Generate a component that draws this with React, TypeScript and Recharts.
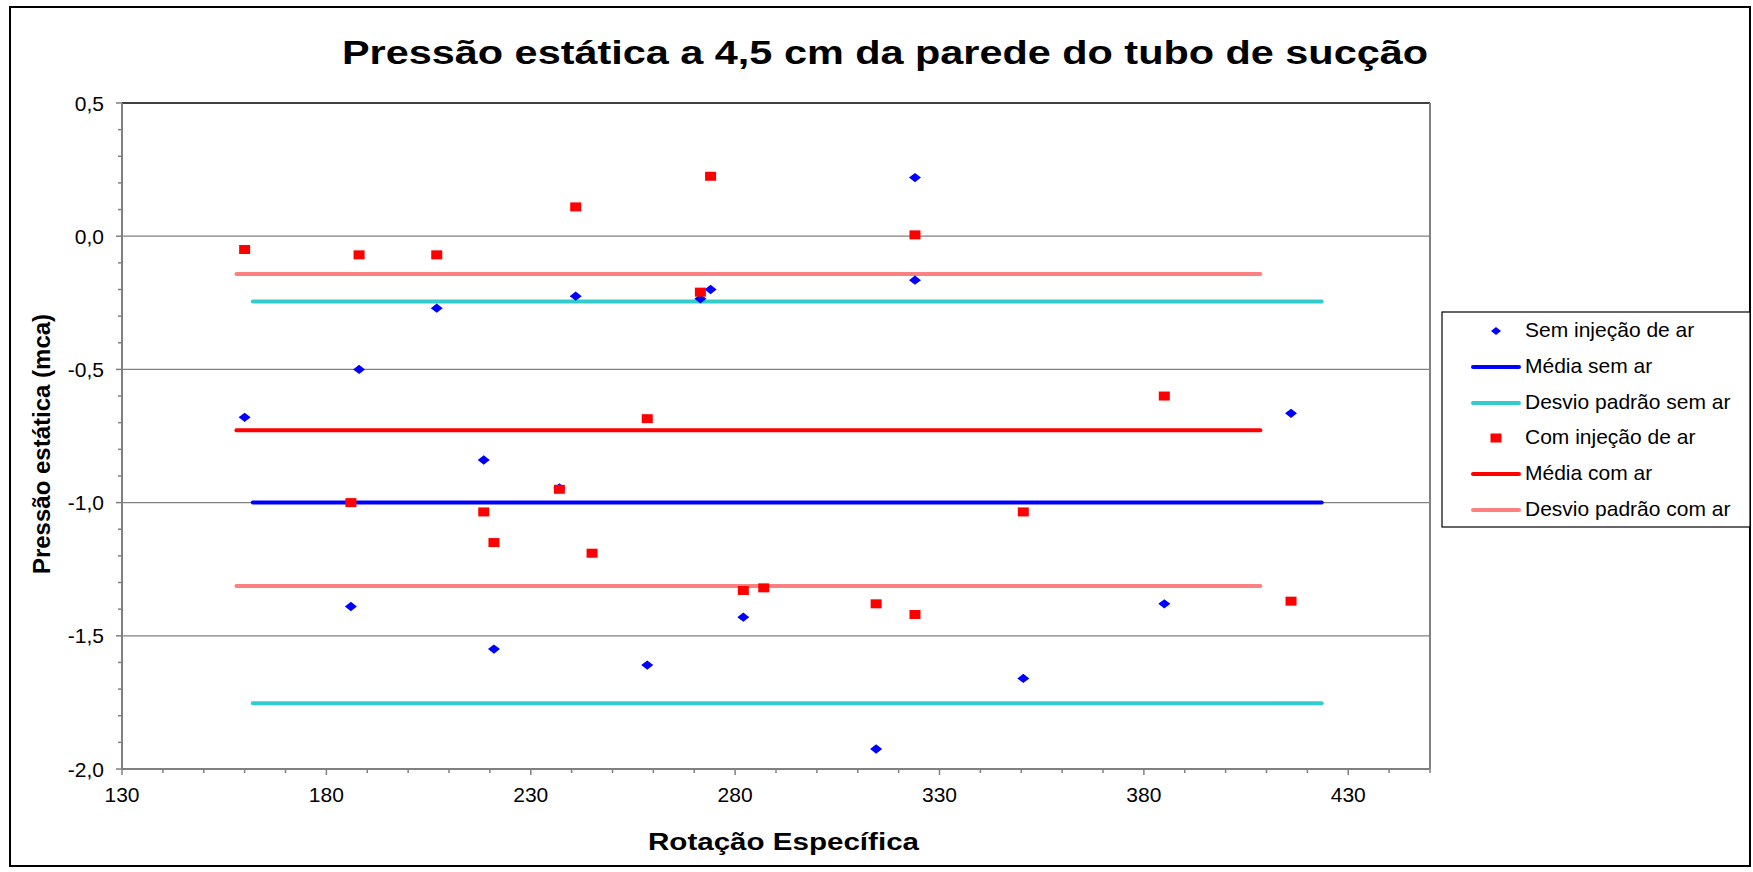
import React from 'react';
import { ScatterChart, Scatter, XAxis, YAxis, ReferenceLine } from 'recharts';

// ---------- data ----------
const semX = [160, 186, 188, 207, 218.5, 221, 237, 241, 258.5, 271.5, 274, 282, 314.5, 324, 324, 350.5, 385, 416];
const semY = [-0.68, -1.39, -0.5, -0.27, -0.84, -1.55, -0.945, -0.225, -1.61, -0.235, -0.2, -1.43, -1.925, 0.22, -0.165, -1.66, -1.38, -0.665];

const comX = [160, 186, 188, 207, 218.5, 221, 237, 241, 245, 258.5, 271.5, 274, 282, 287, 314.5, 324, 324, 350.5, 385, 416];
const comY = [-0.05, -1.0, -0.07, -0.07, -1.035, -1.15, -0.95, 0.11, -1.19, -0.685, -0.21, 0.225, -1.33, -1.32, -1.38, 0.005, -1.42, -1.035, -0.6, -1.37];

const semLineX = [162, 423.5];
const mediaSem = -1.0;
const desvioSemSup = -0.245;
const desvioSemInf = -1.753;

const comLineX = [158, 408.5];
const mediaCom = -0.728;
const desvioComSup = -0.142;
const desvioComInf = -1.313;

const xTicks = [130, 140, 150, 160, 170, 180, 190, 200, 210, 220, 230, 240, 250, 260, 270, 280, 290, 300, 310, 320, 330, 340, 350, 360, 370, 380, 390, 400, 410, 420, 430, 440, 450];
const xMajor = [130, 180, 230, 280, 330, 380, 430];
const yTicks = [-2.0, -1.9, -1.8, -1.7, -1.6, -1.5, -1.4, -1.3, -1.2, -1.1, -1.0, -0.9, -0.8, -0.7, -0.6, -0.5, -0.4, -0.3, -0.2, -0.1, 0.0, 0.1, 0.2, 0.3, 0.4, 0.5];
const yMajor = [-2.0, -1.5, -1.0, -0.5, 0.0, 0.5];
const yMajorLabels = ['-2,0', '-1,5', '-1,0', '-0,5', '0,0', '0,5'];
const gridY = [-1.5, -1.0, -0.5, 0.0];

const titleText = 'Pressão estática a 4,5 cm da parede do tubo de sucção';
const xTitle = 'Rotação Específica';
const yTitle = 'Pressão estática (mca)';

const legendNames = ['Sem injeção de ar', 'Média sem ar', 'Desvio padrão sem ar', 'Com injeção de ar', 'Média com ar', 'Desvio padrão com ar'];
const legendColors = ['#0000FF', '#0000FF', '#33CCCC', '#FF0000', '#FF0000', '#FF8080'];
const legendKinds = ['diamond', 'line', 'line', 'square', 'line', 'line'];

// ---------- derived tables ----------
const zip = (xs: number[], ys: number[]) => xs.map((x, i) => ({ x, y: ys[i] }));
const semData = zip(semX, semY);
const comData = zip(comX, comY);
const hLine = (xs: number[], y: number) => xs.map((x) => ({ x, y }));

const FONT = '"Liberation Sans", Arial, sans-serif';
const W = 1753;
const H = 872;

const near = (a: number, b: number) => Math.abs(a - b) < 1e-6;

const YTick = (props: any) => {
  const { x, y, payload } = props;
  const v = payload.value;
  const mi = yMajor.findIndex((m) => near(m, v));
  const major = mi >= 0;
  return (
    <g>
      <line x1={x - (major ? 6 : 4)} x2={x} y1={y} y2={y} stroke="#808080" strokeWidth={1.5} />
      {major && (
        <text x={x - 18} y={y} dy="0.36em" textAnchor="end" fontFamily={FONT} fontSize={21} fill="#000">
          {yMajorLabels[mi]}
        </text>
      )}
    </g>
  );
};

const XTick = (props: any) => {
  const { x, y, payload } = props;
  const v = payload.value;
  const major = xMajor.some((m) => near(m, v));
  return (
    <g>
      <line x1={x} x2={x} y1={y} y2={y + (major ? 6 : 4)} stroke="#808080" strokeWidth={1.5} />
      {major && (
        <text x={x} y={y + 33} textAnchor="middle" fontFamily={FONT} fontSize={21} fill="#000">
          {String(v)}
        </text>
      )}
    </g>
  );
};

const Diamond = (props: any) => {
  const { cx, cy } = props;
  if (cx == null || cy == null) return <g />;
  return <polygon points={`${cx - 6},${cy} ${cx},${cy - 4.7} ${cx + 6},${cy} ${cx},${cy + 4.7}`} fill="#0000FF" />;
};

const Square = (props: any) => {
  const { cx, cy } = props;
  if (cx == null || cy == null) return <g />;
  return <rect x={cx - 5.5} y={cy - 4.5} width={11} height={9} fill="#FF0000" />;
};

const NoShape = () => <g />;

const lineStyle = (color: string) => ({ stroke: color, strokeWidth: 4, strokeLinecap: 'round' as const });

export default function App() {
  const legendRowY = [331, 367, 403, 438, 474, 510];
  return (
    <div style={{ position: 'absolute', left: 0, top: 0, width: W, height: H, background: '#fff' }}>
      <ScatterChart width={W} height={H} margin={{ top: 103, right: 323, bottom: 0, left: 0 }}>
        <XAxis
          type="number"
          dataKey="x"
          domain={[130, 450]}
          ticks={xTicks}
          interval={0}
          height={103}
          tickSize={0}
          tickMargin={0}
          tickLine={false}
          axisLine={{ stroke: '#808080', strokeWidth: 2 }}
          tick={<XTick />}
        />
        <YAxis
          type="number"
          dataKey="y"
          domain={[-2, 0.5]}
          ticks={yTicks}
          interval={0}
          width={122}
          tickSize={0}
          tickMargin={0}
          tickLine={false}
          axisLine={{ stroke: '#808080', strokeWidth: 2 }}
          tick={<YTick />}
        />
        {gridY.map((g) => (
          <ReferenceLine key={g} y={g} stroke="#808080" strokeWidth={1.3} />
        ))}
        <ReferenceLine y={0.5} stroke="#404040" strokeWidth={2} />
        <ReferenceLine x={450} stroke="#808080" strokeWidth={2} />

        <Scatter name="Média sem ar" data={hLine(semLineX, mediaSem)} line={lineStyle('#0000FF')} shape={NoShape} isAnimationActive={false} legendType="none" />
        <Scatter name="Desvio padrão sem ar" data={hLine(semLineX, desvioSemSup)} line={lineStyle('#33CCCC')} shape={NoShape} isAnimationActive={false} legendType="none" />
        <Scatter name="Desvio padrão sem ar (inf)" data={hLine(semLineX, desvioSemInf)} line={lineStyle('#33CCCC')} shape={NoShape} isAnimationActive={false} legendType="none" />
        <Scatter name="Média com ar" data={hLine(comLineX, mediaCom)} line={lineStyle('#FF0000')} shape={NoShape} isAnimationActive={false} legendType="none" />
        <Scatter name="Desvio padrão com ar" data={hLine(comLineX, desvioComSup)} line={lineStyle('#FF8080')} shape={NoShape} isAnimationActive={false} legendType="none" />
        <Scatter name="Desvio padrão com ar (inf)" data={hLine(comLineX, desvioComInf)} line={lineStyle('#FF8080')} shape={NoShape} isAnimationActive={false} legendType="none" />

        <Scatter name="Sem injeção de ar" data={semData} fill="#0000FF" shape={Diamond} isAnimationActive={false} />
        <Scatter name="Com injeção de ar" data={comData} fill="#FF0000" shape={Square} isAnimationActive={false} />
      </ScatterChart>

      <svg
        width={W}
        height={H}
        style={{ position: 'absolute', left: 0, top: 0, pointerEvents: 'none' }}
      >
        <rect x={10} y={7} width={1740} height={859} fill="none" stroke="#000" strokeWidth={2} />
        <text
          x={885}
          y={64}
          textAnchor="middle"
          fontFamily={FONT}
          fontWeight="bold"
          fontSize={33}
          textLength={1086}
          lengthAdjust="spacingAndGlyphs"
          fill="#000"
        >
          {titleText}
        </text>
        <text
          x={783.5}
          y={850}
          textAnchor="middle"
          fontFamily={FONT}
          fontWeight="bold"
          fontSize={23}
          textLength={271}
          lengthAdjust="spacingAndGlyphs"
          fill="#000"
        >
          {xTitle}
        </text>
        <text
          x={50}
          y={444}
          transform="rotate(-90, 50, 444)"
          textAnchor="middle"
          fontFamily={FONT}
          fontWeight="bold"
          fontSize={24}
          fill="#000"
        >
          {yTitle}
        </text>

        <rect x={1442} y={312} width={308} height={215} fill="#fff" stroke="#000" strokeWidth={1.2} />
        {legendNames.map((name, i) => {
          const cy = legendRowY[i];
          const color = legendColors[i];
          const kind = legendKinds[i];
          return (
            <g key={name}>
              {kind === 'line' && (
                <line x1={1473} x2={1519} y1={cy} y2={cy} stroke={color} strokeWidth={4} strokeLinecap="round" />
              )}
              {kind === 'diamond' && (
                <polygon points={`${1491},${cy} ${1496},${cy - 4} ${1501},${cy} ${1496},${cy + 4}`} fill={color} />
              )}
              {kind === 'square' && <rect x={1490.5} y={cy - 4.5} width={11} height={9} fill={color} />}
              <text x={1525} y={cy + 6} fontFamily={FONT} fontSize={21} fill="#000">
                {name}
              </text>
            </g>
          );
        })}
      </svg>
    </div>
  );
}
